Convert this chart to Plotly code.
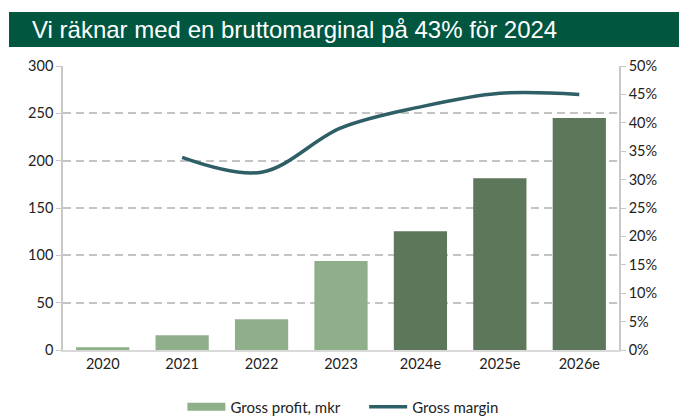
import plotly.graph_objects as go

categories = ["2020", "2021", "2022", "2023", "2024e", "2025e", "2026e"]
gross_profit = [3, 15.5, 32.5, 94, 125.5, 181.5, 245]
gross_margin = [None, 0.339, 0.313, 0.391, 0.428, 0.452, 0.450]
bar_colors = ["#8FAE8A"] * 4 + ["#5C7759"] * 3

title_text = "Vi räknar med en bruttomarginal på 43% för 2024"

fig = go.Figure()
fig.add_trace(go.Bar(
    x=categories, y=gross_profit, name="Gross profit, mkr",
    marker=dict(color=bar_colors, line=dict(width=0)),
    yaxis="y", showlegend=False,
))
# legend-only entry that draws the wide swatch of the bar series
fig.add_trace(go.Scatter(
    x=[None], y=[None], name="Gross profit, mkr" + "\u00a0" * 5, mode="lines",
    line=dict(color="#8FAE8A", width=8), yaxis="y", showlegend=True,
))
fig.add_trace(go.Scatter(
    x=categories, y=gross_margin, name="Gross margin",
    mode="lines", line=dict(color="#2E5E66", width=3.5, shape="spline", smoothing=1.0),
    yaxis="y2",
))

font_ax = dict(family="Lato, Open Sans, sans-serif", size=14.5, color="#222222")

fig.update_layout(
    width=679, height=416,
    margin=dict(l=63, r=60, t=66, b=66),
    paper_bgcolor="white", plot_bgcolor="white",
    bargap=0.33,
    showlegend=True,
    legend=dict(orientation="h", x=0.505, xanchor="center", xref="container",
                y=1 - 407 / 416, yanchor="middle", yref="container",
                font=dict(family="Lato, Open Sans, sans-serif", size=15, color="#222222"),
                traceorder="normal", itemwidth=38, bgcolor="rgba(0,0,0,0)"),
    xaxis=dict(showgrid=False, showline=True, linecolor="#D9D9D9", linewidth=1.5,
               tickfont=font_ax, ticks="", zeroline=False),
    yaxis=dict(range=[0, 300], dtick=50, showgrid=True, gridcolor="#C4C4C4",
               griddash="8px,5px", gridwidth=1.6, showline=True, linecolor="#C8C8C8",
               linewidth=1.5, ticks="outside", ticklen=5, tickcolor="#C8C8C8",
               tickfont=font_ax, zeroline=False),
    yaxis2=dict(range=[0, 0.5], dtick=0.05, tickformat=".0%", overlaying="y",
                side="right", showgrid=False, showline=True, linecolor="#C8C8C8",
                linewidth=1.5, ticks="outside", ticklen=5, tickcolor="#C8C8C8",
                tickfont=font_ax, zeroline=False),
    shapes=[dict(type="rect", xref="paper", yref="paper",
                 x0=-54/556, x1=(679-63)/556, y0=(350-47)/284, y1=(350-12)/284,
                 fillcolor="#00563F", line=dict(width=0), layer="below")],
    annotations=[dict(text=title_text, xref="paper", yref="paper",
                      x=-33/556, y=(350-29.5)/284, xanchor="left", yanchor="middle",
                      showarrow=False,
                      font=dict(family="Liberation Sans, Arial, sans-serif", size=24, color="white"))],
)

fig.write_html("out.html", config={"displayModeBar": False},
               post_script="document.body.style.margin='0';")
